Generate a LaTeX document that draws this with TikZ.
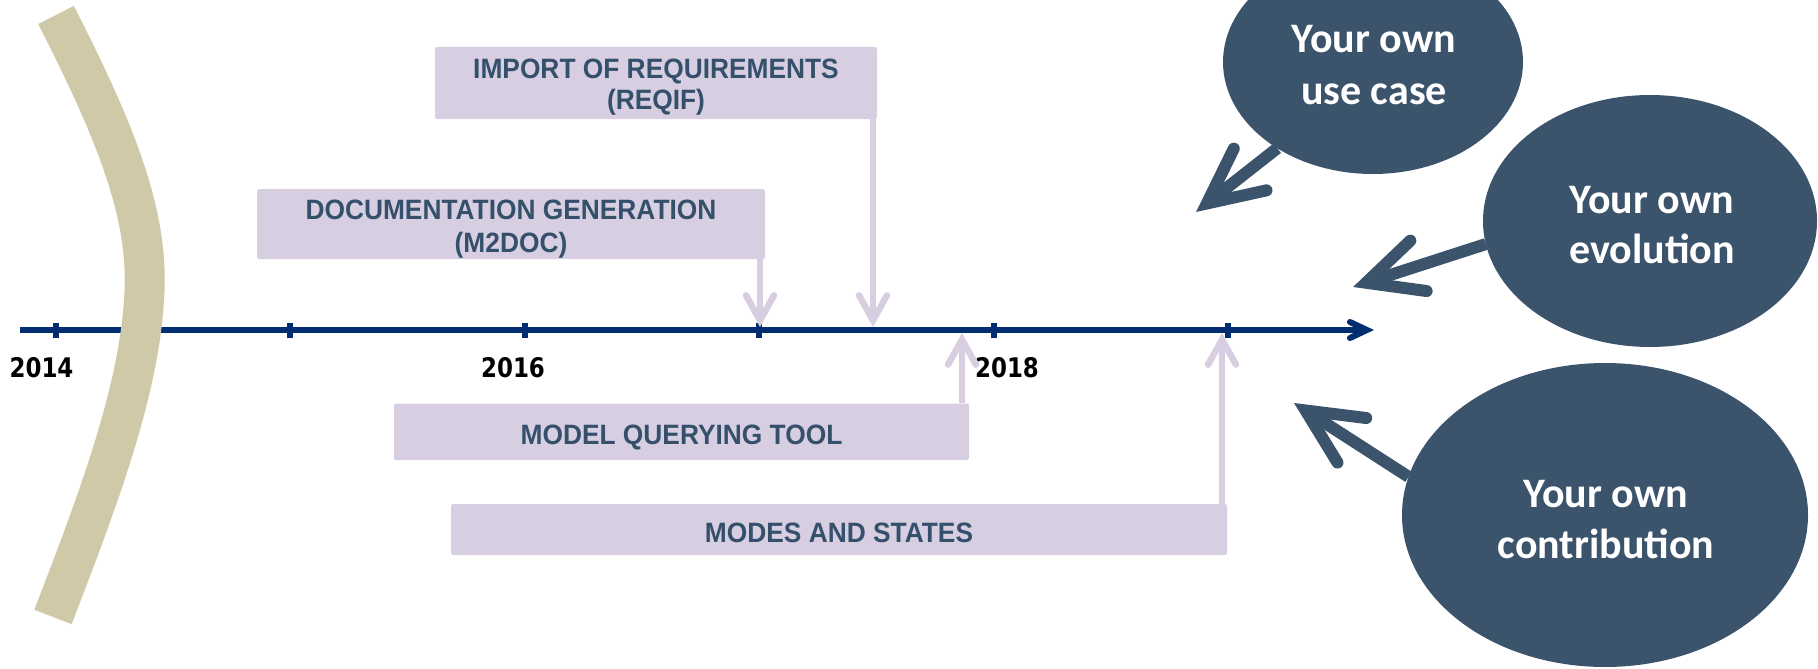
\documentclass[tikz,border=0pt]{standalone}
\usepackage{fontspec}
\setmainfont{Liberation Sans}
\newfontfamily\boxfont{Liberation Sans}[FakeStretch=0.94]
\newfontfamily\ellfont{Carlito}
\newfontfamily\yearfont{DejaVu Sans}[FakeStretch=0.85]
\usetikzlibrary{arrows.meta,shapes.geometric,backgrounds}
\definecolor{navy}{RGB}{0,46,112}
\definecolor{tanarc}{RGB}{207,201,168}
\definecolor{lav}{RGB}{216,206,226}
\definecolor{boxtext}{RGB}{52,80,107}
\definecolor{ellfill}{RGB}{59,84,108}
\tikzset{
  yearlbl/.style={font=\yearfont\bfseries\fontsize{27}{27}\selectfont, inner sep=0pt, anchor=base, text=black},
  box/.style={fill=lav, draw=none, rounded corners=2pt, inner sep=0pt},
  boxtxt/.style={font=\boxfont\bfseries\fontsize{28}{32}\selectfont, text=boxtext, inner sep=0pt, anchor=base},
  ell/.style={ellipse, fill=ellfill, draw=none, inner sep=0pt, outer sep=0pt},
  elltxt/.style={font=\ellfont\bfseries\fontsize{42}{51}\selectfont, text=white, inner sep=0pt, anchor=base},
  lavarr/.style={draw=lav, line width=6.5pt, -{Straight Barb[length=25pt,width=28pt,line cap=round,line join=miter]}},
  darkarr/.style={draw=ellfill, line width=12pt, -{Straight Barb[length=55pt,width=53pt,line cap=round,line join=miter]}},
  tline/.style={draw=navy, line width=6pt, -{Straight Barb[length=17pt,width=16pt,line cap=round,line join=miter]}},
  tick/.style={draw=navy, line width=6pt},
  arcband/.style={draw=tanarc, line width=40pt}
}
\begin{document}
\begin{tikzpicture}[x=1pt,y=-1pt]
\useasboundingbox (0,0) rectangle (1818,669);
\clip (0,0) rectangle (1818,669);

% timeline
\coordinate (tl0) at (20,330);
\coordinate (tl1) at (1374,330);
\draw[tline] (tl0) -- (tl1);
\foreach \x in {56,290.4,524.8,759.2,993.6,1228}
  \draw[tick] (\x,322.5) -- (\x,337.5);

% year labels
\node[yearlbl] (y14) at (41.5,377) {2014};
\node[yearlbl] (y16) at (513,377) {2016};
\node[yearlbl] (y18) at (1007,377) {2018};

% tan arc
\draw[arcband] (56,15) .. controls (120,140) and (150,220) .. (144,300)
               .. controls (138,400) and (90,520) .. (53,617);

% boxes
\node[box, minimum width=442pt, minimum height=72pt] (b1) at (656,83) {};
\node[boxtxt] (b1t1) at (656,78) {IMPORT OF REQUIREMENTS};
\node[boxtxt] (b1t2) at (656,110) {(REQIF)};

\node[box, minimum width=508pt, minimum height=70pt] (b2) at (511,224) {};
\node[boxtxt] (b2t1) at (511,219) {DOCUMENTATION GENERATION};
\node[boxtxt] (b2t2) at (511,252) {(M2DOC)};

\node[box, minimum width=575pt, minimum height=56.5pt] (b3) at (681.5,431.75) {};
\node[boxtxt] (b3t) at (681.5,444) {MODEL QUERYING TOOL};

\node[box, minimum width=776pt, minimum height=51pt] (b4) at (839,529.5) {};
\node[boxtxt] (b4t) at (839,542) {MODES AND STATES};

% lavender arrows
\coordinate (p1) at (873,327);
\coordinate (p2) at (760,327);
\coordinate (p3) at (962,333);
\coordinate (p4) at (1222,333);
\draw[lavarr] (b1.south -| p1) -- (p1);
\draw[lavarr] (b2.south -| p2) -- (p2);
\draw[lavarr] (b3.north -| p3) -- (p3);
\draw[lavarr] (b4.north -| p4) -- (p4);

% ellipses
\node[ell, minimum width=300pt, minimum height=224pt] (e1) at (1373,62) {};
\node[ell, minimum width=334pt, minimum height=252pt] (e2) at (1650,221) {};
\node[ell, minimum width=406pt, minimum height=304pt] (e3) at (1605,515) {};

\node[elltxt] (e1t1) at (1374,53) {Your own};
\node[elltxt] (e1t2) at (1374,104) {use case};
\node[elltxt] (e2t1) at (1652,213) {Your own};
\node[elltxt] (e2t2) at (1652,263) {evolution};
\node[elltxt] (e3t1) at (1606,507) {Your own};
\node[elltxt] (e3t2) at (1606,558) {contribution};

% dark arrows
\coordinate (t1) at (1196,212);
\coordinate (t2) at (1353,287);
\coordinate (t3) at (1294,403);
\begin{scope}[on background layer]
\draw[darkarr] (e1.222) -- (t1);
\draw[darkarr] (e2.188) -- (t2);
\draw[darkarr] (e3.169) -- (t3);
\end{scope}
\end{tikzpicture}
\end{document}
